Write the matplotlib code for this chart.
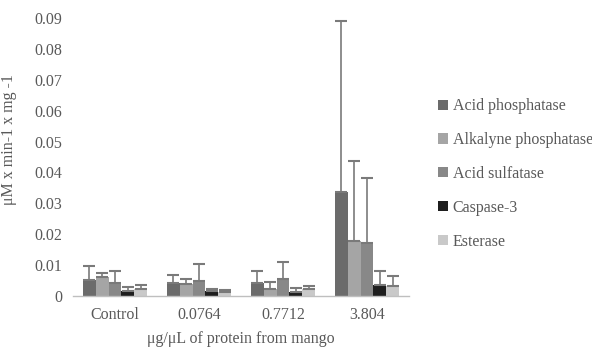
import matplotlib
matplotlib.use("Agg")
import matplotlib.pyplot as plt
import numpy as np

categories = ["Control", "0.0764", "0.7712", "3.804"]
series = ["Acid phosphatase", "Alkalyne phosphatase", "Acid sulfatase", "Caspase-3", "Esterase"]
acid_phosphatase = [0.0052, 0.0041, 0.0043, 0.0336]
alkalyne_phosphatase = [0.0060, 0.0039, 0.0024, 0.0177]
acid_sulfatase = [0.0041, 0.0048, 0.0055, 0.0172]
caspase3 = [0.0016, 0.0016, 0.0014, 0.0034]
esterase = [0.0023, 0.0012, 0.0022, 0.0033]
err_acid_phosphatase = [0.0045, 0.0027, 0.0038, 0.0555]
err_alkalyne_phosphatase = [0.0016, 0.0015, 0.0020, 0.0260]
err_acid_sulfatase = [0.0040, 0.0054, 0.0054, 0.0209]
err_caspase3 = [0.0012, 0.0008, 0.0011, 0.0047]
err_esterase = [0.0011, 0.0009, 0.0010, 0.0031]

values = [acid_phosphatase, alkalyne_phosphatase, acid_sulfatase, caspase3, esterase]
errors = [err_acid_phosphatase, err_alkalyne_phosphatase, err_acid_sulfatase, err_caspase3, err_esterase]
colors = ["#6b6b6b", "#a5a5a5", "#888888", "#1e1e1e", "#c9c9c9"]

plt.rcParams['font.family'] = ['Liberation Serif', 'DejaVu Serif']
text_color = "#595959"

fig = plt.figure(figsize=(5.92, 3.55), dpi=100)
ax = fig.add_axes([73/592, 1-296/355, 336/592, (296-18)/355])

x = np.arange(len(categories))
w = 0.152
for i, (vals, errs, c, name) in enumerate(zip(values, errors, colors, series)):
    pos = x + (i - 2) * w
    ax.bar(pos, vals, width=w, color=c, label=name, zorder=2)
    ax.errorbar(pos, vals, yerr=[np.zeros(len(errs)), errs], fmt='none',
                ecolor="#7a7a7a", elinewidth=1.2, capsize=4.5, capthick=1.5, zorder=3)

ax.set_xlim(-0.5, 3.5)
ax.set_ylim(0, 0.09)
ax.set_yticks(np.arange(0, 0.0901, 0.01))
ax.set_yticklabels(["0"] + ["%.2f" % v for v in np.arange(0.01, 0.0901, 0.01)])
ax.set_xticks(x)
ax.set_xticklabels(categories)
ax.tick_params(axis='both', length=0, labelsize=11.5, colors=text_color, pad=8)
for s in ["top", "right", "left"]:
    ax.spines[s].set_visible(False)
ax.spines["bottom"].set_color("#bfbfbf")
ax.spines["bottom"].set_linewidth(1.0)

ax.set_ylabel("μM x min-1 x mg -1", fontsize=11.5, color=text_color)
ax.yaxis.set_label_coords(-0.167, 0.561)
ax.set_xlabel("μg/μL of protein from mango", fontsize=11.5, color=text_color, labelpad=6)

leg = ax.legend(loc="center left", bbox_to_anchor=(432/336 - 73/336, 1 - (174-18)/278),
                frameon=False, fontsize=11.5, handlelength=0.6, handleheight=0.6,
                handletextpad=0.3, labelspacing=1.12, borderaxespad=0)
for t in leg.get_texts():
    t.set_color(text_color)

fig.savefig("out.png", dpi=100)
